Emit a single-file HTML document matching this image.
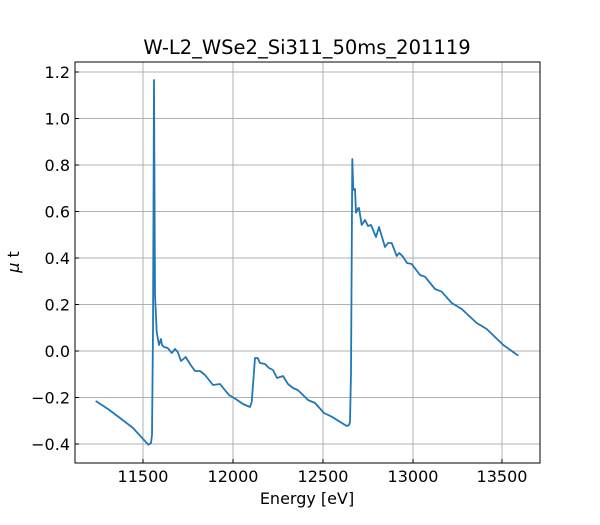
<!DOCTYPE html>
<html><head><meta charset="utf-8"><style>
body{margin:0;background:#fff;}
text{font-family:"DejaVu Sans","Liberation Sans",sans-serif;fill:#000;}
</style></head><body>
<svg width="600" height="520" xmlns="http://www.w3.org/2000/svg">
<rect width="600" height="520" fill="#fff"/>
<g stroke="#b0b0b0" stroke-width="1">
<line x1="143" y1="62" x2="143" y2="463"/><line x1="233" y1="62" x2="233" y2="463"/><line x1="323" y1="62" x2="323" y2="463"/><line x1="413" y1="62" x2="413" y2="463"/><line x1="502" y1="62" x2="502" y2="463"/>
<line x1="75" y1="72" x2="540" y2="72"/><line x1="75" y1="118.5" x2="540" y2="118.5"/><line x1="75" y1="165" x2="540" y2="165"/><line x1="75" y1="211.5" x2="540" y2="211.5"/><line x1="75" y1="258" x2="540" y2="258"/><line x1="75" y1="304.5" x2="540" y2="304.5"/><line x1="75" y1="351" x2="540" y2="351"/><line x1="75" y1="397.5" x2="540" y2="397.5"/><line x1="75" y1="444" x2="540" y2="444"/>
</g>
<polyline fill="none" stroke="#1f77b4" stroke-width="1.8" stroke-linejoin="round" points="95.7,401 108,409 120,418 133,428 148.3,444.7 151,443 152,435 153,330 154,80 155,295 156.7,332 159,345 161,339 162,345 164,347 167.7,348 171.7,353 175,349 177.7,352 181,361 185.7,357 190,364 195,371 200,371 205,375 209,380 213,385 220,384 224,389 229,395 235.7,399 243,404 250,407 251.7,402 255,358 257.7,358 260,363 265,364 269,368 273,370 277,378 283,376 288,384 293,388 297.7,390 303,395 308,400 315,403 324,413 331.7,416.7 346.7,426 349,425 350,421.7 351,373 352.3,159 353.3,190 355,189 356,212.7 358.3,208 359,208 361.7,225 365,220 368,226 371,225 376,237 379,227 385,247 388,243 391.7,243 396.7,256 399.3,253 403,256.7 407,263 411.7,264 420,275 425,276.7 435,289 441.7,291.7 451.7,303 461.7,309 476.7,323 486.7,329 503.3,345 518.3,355.7"/>
<rect x="75" y="62" width="465" height="401" fill="none" stroke="#000" stroke-width="1"/>
<g stroke="#000" stroke-width="1">
<line x1="143" y1="463" x2="143" y2="459"/><line x1="233" y1="463" x2="233" y2="459"/><line x1="323" y1="463" x2="323" y2="459"/><line x1="413" y1="463" x2="413" y2="459"/><line x1="502" y1="463" x2="502" y2="459"/>
<line x1="75" y1="72" x2="79" y2="72"/><line x1="75" y1="118.5" x2="79" y2="118.5"/><line x1="75" y1="165" x2="79" y2="165"/><line x1="75" y1="211.5" x2="79" y2="211.5"/><line x1="75" y1="258" x2="79" y2="258"/><line x1="75" y1="304.5" x2="79" y2="304.5"/><line x1="75" y1="351" x2="79" y2="351"/><line x1="75" y1="397.5" x2="79" y2="397.5"/><line x1="75" y1="444" x2="79" y2="444"/>
</g>
<g font-size="16" text-anchor="middle">
<text x="143" y="482">11500</text><text x="233" y="482">12000</text><text x="323" y="482">12500</text><text x="413" y="482">13000</text><text x="502" y="482">13500</text>
</g>
<g font-size="16" text-anchor="end">
<text x="70" y="78">1.2</text><text x="70" y="124.5">1.0</text><text x="70" y="171">0.8</text><text x="70" y="217.5">0.6</text><text x="70" y="264">0.4</text><text x="70" y="310.5">0.2</text><text x="70" y="357">0.0</text><text x="70" y="403.5">−0.2</text><text x="70" y="450">−0.4</text>
</g>
<text x="307" y="504" font-size="16" text-anchor="middle">Energy [eV]</text>
<text x="0" y="0" font-size="16" text-anchor="middle" transform="translate(19,262) rotate(-90)"><tspan font-style="italic">μ</tspan> t</text>
<text x="307" y="54" font-size="19.5" text-anchor="middle">W-L2_WSe2_Si311_50ms_201119</text>
</svg>
</body></html>
